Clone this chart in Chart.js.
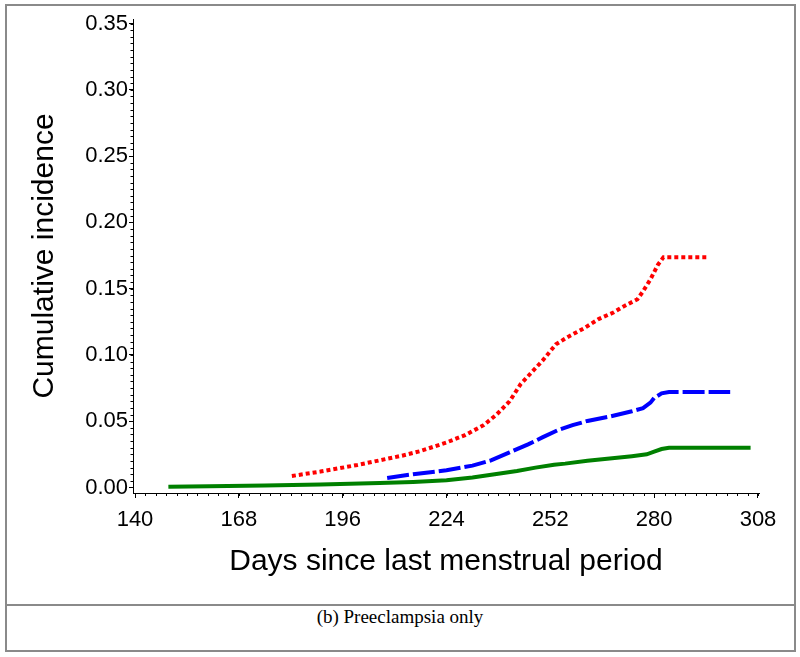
<!DOCTYPE html>
<html>
<head>
<meta charset="utf-8">
<script src="https://cdn.jsdelivr.net/npm/chart.js@4/dist/chart.umd.min.js"></script>
<style>
    body { margin: 0; background: #fff; }
    #frame { position: absolute; left: 5px; top: 4px; width: 791px; height: 648px; border: 2px solid #8a8a8a; box-sizing: border-box; }
    #sep { position: absolute; left: 5px; top: 604px; width: 791px; height: 2px; background: #8a8a8a; }
    #plot { position: absolute; left: 0; top: 0; }
    #caption { position: absolute; left: 0; top: 607px; width: 800px; text-align: center;
        font: 19px/19px "Liberation Serif", "Times New Roman", serif; color: #000; }
</style>
</head>
<body>
<div id="frame"></div>
<div id="sep"></div>
<canvas id="plot" width="800" height="600"></canvas>
<div id="caption">(b) Preeclampsia only</div>
<script>
    // tick labels
    var xTicks = [140, 168, 196, 224, 252, 280, 308];
    var yTicks = [0, 0.05, 0.10, 0.15, 0.20, 0.25, 0.30, 0.35];

    // red dotted curve
    var redDays = [182.3, 190, 200, 206, 212, 217, 224, 229, 234, 237.5, 241, 244, 247, 250, 253.5, 257, 261, 265, 269, 272, 275.5, 277, 279, 281, 282.5, 294.6];
    var redVals = [0.0087, 0.0120, 0.0170, 0.0205, 0.0240, 0.0275, 0.0340, 0.0395, 0.0470, 0.0550, 0.0650, 0.0780, 0.0870, 0.0960, 0.1080, 0.1140, 0.1200, 0.1270, 0.1320, 0.1370, 0.1420, 0.1480, 0.1570, 0.1680, 0.1736, 0.1736];

    // blue dashed curve
    var blueDays = [208, 215, 224, 231, 236, 241, 246, 250, 254, 258, 262, 268, 274, 277, 279, 280, 282, 284, 300.5];
    var blueVals = [0.0072, 0.0100, 0.0130, 0.0165, 0.0205, 0.0265, 0.0325, 0.0380, 0.0432, 0.0470, 0.0502, 0.0535, 0.0575, 0.0598, 0.0640, 0.0675, 0.0710, 0.0720, 0.0720];

    // green solid curve
    var greenDays = [149, 160, 175, 190, 206, 215, 224, 231, 237, 243, 248, 253, 256, 262, 268, 274, 278, 280, 282, 284, 306];
    var greenVals = [0.0005, 0.0010, 0.0015, 0.0022, 0.0034, 0.0042, 0.0055, 0.0075, 0.0100, 0.0125, 0.0150, 0.0172, 0.0180, 0.0202, 0.0218, 0.0236, 0.0250, 0.0270, 0.0290, 0.0300, 0.0300];

    function pairs(xs, ys) {
        return xs.map(function (d, i) { return {x: d, y: ys[i]}; });
    }

    // small ticks between the labelled ones
    var minorTicks = {
        id: 'minorTicks',
        afterDraw: function (chart) {
            var ctx = chart.ctx, x = chart.scales.x, y = chart.scales.y;
            ctx.save();
            ctx.strokeStyle = '#000';
            ctx.lineWidth = 1;
            ctx.beginPath();
            for (var i = 0; i <= 60; i++) {
                var px = Math.round(x.getPixelForValue(140 + i * 2.8)) + 0.5;
                ctx.moveTo(px, x.top);
                ctx.lineTo(px, x.top + 3);
            }
            for (var j = 0; j <= 70; j++) {
                var py = Math.round(y.getPixelForValue(j * 0.005)) + 0.5;
                ctx.moveTo(y.right, py);
                ctx.lineTo(y.right - 2.5, py);
            }
            ctx.stroke();
            ctx.restore();
        }
    };

    var tickFont = {family: '"Liberation Sans", Arial, sans-serif', size: 22};
    var titleFont = {family: '"Liberation Sans", Arial, sans-serif', size: 30};

    new Chart(document.getElementById('plot'), {
        type: 'line',
        data: {
            datasets: [{
                data: pairs(redDays, redVals),
                borderColor: '#ff0000',
                borderWidth: 4,
                borderDash: [4, 3],
                pointRadius: 0
            }, {
                data: pairs(blueDays, blueVals),
                borderColor: '#0000ff',
                borderWidth: 4,
                borderDash: [22, 4],
                pointRadius: 0
            }, {
                data: pairs(greenDays, greenVals),
                borderColor: '#008000',
                borderWidth: 4,
                pointRadius: 0
            }]
        },
        options: {
            responsive: false,
            animation: false,
            layout: {padding: {top: 19, right: 41, left: 0, bottom: 0}},
            plugins: {legend: {display: false}, tooltip: {enabled: false}},
            scales: {
                x: {
                    type: 'linear',
                    min: 139.46,
                    max: 308.27,
                    afterBuildTicks: function (s) { s.ticks = xTicks.map(function (v) { return {value: v}; }); },
                    afterFit: function (s) { s.height = 107; },
                    grid: {drawOnChartArea: false, tickLength: 5, tickColor: '#000'},
                    border: {color: '#000', width: 1},
                    ticks: {color: '#000', font: tickFont, padding: 9, maxRotation: 0, autoSkip: false},
                    title: {display: true, text: 'Days since last menstrual period', color: '#000', font: titleFont, padding: {bottom: 20}}
                },
                y: {
                    min: -0.00415,
                    max: 0.3534,
                    afterBuildTicks: function (s) { s.ticks = yTicks.map(function (v) { return {value: v}; }); },
                    afterFit: function (s) { s.width = 133; },
                    grid: {drawOnChartArea: false, tickLength: 4, tickColor: '#000'},
                    border: {color: '#000', width: 1},
                    ticks: {color: '#000', font: tickFont, padding: 1, callback: function (v) { return v.toFixed(2); }},
                    title: {display: true, text: 'Cumulative incidence', color: '#000', font: titleFont, padding: {top: 27}}
                }
            }
        },
        plugins: [minorTicks]
    });
</script>
</body>
</html>
